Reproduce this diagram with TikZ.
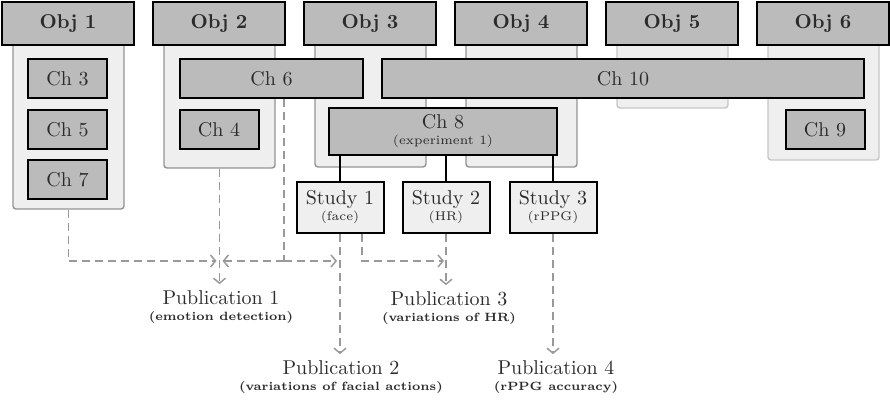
\documentclass[tikz,border=0pt]{standalone}
\usepackage{xcolor}
\usepackage{tikz}
\usetikzlibrary{arrows.meta, positioning, calc, fit}

\definecolor{ink}{HTML}{2B2B2B}
\definecolor{boxgray}{HTML}{BBBBBB}
\definecolor{panelfill}{HTML}{EFEFEF}
\definecolor{dashgray}{HTML}{999999}

\newcommand{\subnote}{\fontsize{6.3}{7}\selectfont}
\newcommand{\pubnote}{\fontsize{6}{7}\selectfont\bfseries}

\begin{document}
\begin{tikzpicture}[
      x=0.5pt, y=-0.5pt,
      text=ink,
      obj/.style={draw, line width=1pt, fill=boxgray, minimum width=66pt, minimum height=21.5pt, inner sep=0pt, font=\bfseries},
      chap/.style={draw, line width=1pt, fill=boxgray, minimum width=39.5pt, minimum height=19.5pt, inner sep=0pt, align=center},
      panel/.style={draw=gray!85, fill=panelfill, rounded corners=1.5pt, line width=0.7pt, inner sep=0pt},
      fadedpanel/.style={panel, draw=gray!45},
      study/.style={draw, line width=1pt, fill=panelfill, minimum width=43.5pt, minimum height=25.5pt, inner sep=0pt, align=center},
      pub/.style={inner sep=0pt, align=center},
      link/.style={line width=0.8pt},
      dashline/.style={draw=dashgray, line width=0.75pt, dash pattern=on 4pt off 2.5pt},
      dasharrow/.style={dashline, -{Straight Barb[length=2.5pt, width=6pt]}}
    ]
      \useasboundingbox (0,0) rectangle (890,400);

      % objective columns
      \node[panel, fit={(13,40) (124,209)}] (pan1) {};
      \node[panel, fit={(164,40) (275,168)}] (pan2) {};
      \node[panel, fit={(315,40) (426,167)}] (pan3) {};
      \node[panel, fit={(466,40) (577,167)}] (pan4) {};
      \node[fadedpanel, fit={(617,40) (728,108)}] (pan5) {};
      \node[fadedpanel, fit={(768,40) (879,160)}] (pan6) {};
      \foreach \i/\x in {1/68, 2/219, 3/370, 4/521, 5/672, 6/823}
        \node[obj] (obj\i) at (\x,23.5) {Obj \i};

      % chapters
      \node[chap] (ch3) at (67.5,78.5) {Ch 3};
      \node[chap] (ch5) at (67.5,129.5) {Ch 5};
      \node[chap] (ch7) at (67.5,179.5) {Ch 7};
      \node[chap] (ch4) at (219,130) {Ch 4};
      \node[chap] (ch9) at (825,130) {Ch 9};
      \node[chap, minimum width=91.5pt] (ch6) at (271.5,78.5) {Ch 6};
      \node[chap, minimum width=241pt] (ch10) at (623,78.5) {Ch 10};
      \node[chap, minimum width=114pt, minimum height=23.5pt] (ch8) at (443,131.5) {Ch 8\\[-4pt]{\subnote (experiment 1)}};

      % studies
      \node[study] (s1) at (340,207.5) {Study 1\\[-4pt]{\subnote (face)}};
      \node[study] (s2) at (446,207.5) {Study 2\\[-4pt]{\subnote (HR)}};
      \node[study] (s3) at (553,207.5) {Study 3\\[-4pt]{\subnote (rPPG)}};
      \foreach \s in {s1, s2, s3}
        \draw[link] (ch8.south -| \s) -- (\s.north);

      % publications
      \node[pub] (pub1) at (221,307) {Publication 1\\[-4pt]{\pubnote (emotion detection)}};
      \node[pub] (pub2) at (341,377) {Publication 2\\[-4pt]{\pubnote (variations of facial actions)}};
      \node[pub] (pub3) at (449,308) {Publication 3\\[-4pt]{\pubnote (variations of HR)}};
      \node[pub] (pub4) at (556,377) {Publication 4\\[-4pt]{\pubnote (rPPG accuracy)}};

      % dashed links
      \coordinate (rail) at (0,261);
      \coordinate (ch6drop) at ([xshift=6.25pt]ch6.south);
      \coordinate (s1drop) at ([xshift=11pt]s1.south);
      \draw[dasharrow] (pan1.south) |- ([xshift=-1.5pt]pan2.south |- rail);
      \draw[dashline] (ch6drop) -- (ch6drop |- rail);
      \draw[dasharrow] (ch6drop |- rail) -- ([xshift=1.5pt]pan2.south |- rail);
      \draw[dasharrow] (ch6drop |- rail) -- ([xshift=-1.5pt]s1.south |- rail);
      \draw[dasharrow] (s1drop) |- ([xshift=-1pt]s2.south |- rail);
      \draw[dasharrow] (pan2.south) -- ([yshift=3pt]pan2.south |- pub1.north);
      \draw[dasharrow] (s1.south) -- ([yshift=3pt]s1.south |- pub2.north);
      \draw[dasharrow] (s2.south) -- ([yshift=3pt]s2.south |- pub3.north);
      \draw[dasharrow] (s3.south) -- ([yshift=3pt]s3.south |- pub4.north);
    \end{tikzpicture}
\end{document}
